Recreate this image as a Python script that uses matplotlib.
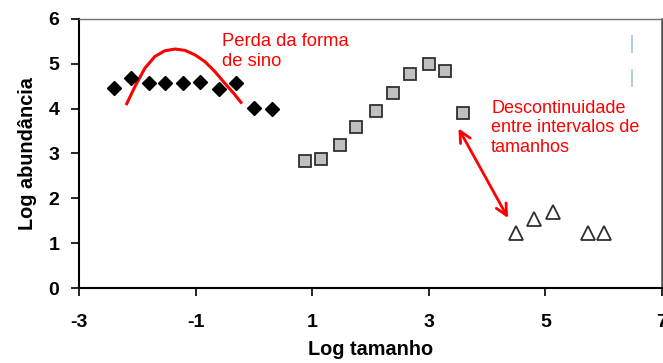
import matplotlib.pyplot as plt

plt.rcParams['font.family'] = ['Liberation Sans', 'DejaVu Sans']
plt.rcParams['axes.unicode_minus'] = False

# Classe 1 (losangos)
diamX = [-2.40, -2.11, -1.79, -1.52, -1.21, -0.92, -0.60, -0.30, 0.01, 0.32]
diamY = [4.47, 4.69, 4.57, 4.57, 4.57, 4.60, 4.43, 4.57, 4.02, 4.00]

# Classe 2 (quadrados)
sqX = [0.87, 1.16, 1.48, 1.76, 2.09, 2.39, 2.68, 3.00, 3.28, 3.58]
sqY = [2.83, 2.88, 3.19, 3.59, 3.94, 4.35, 4.78, 5.00, 4.84, 3.90]

# Classe 3 (triangulos)
triX = [4.50, 4.81, 5.13, 5.73, 6.01]
triY = [1.22, 1.53, 1.69, 1.22, 1.22]

# Curva em forma de sino
bellX = [-2.18, -2.04, -1.87, -1.70, -1.53, -1.35, -1.18, -1.01, -0.84, -0.67, -0.50, -0.35, -0.22]
bellY = [4.11, 4.49, 4.90, 5.16, 5.29, 5.33, 5.30, 5.20, 5.05, 4.83, 4.57, 4.35, 4.14]

# Extremos da seta de descontinuidade
arrowStart = (3.51, 3.56)
arrowEnd = (4.36, 1.56)

# Pequenas barras azuladas
barX = 6.48
barSegs = [(5.63, 5.26), (4.87, 4.50)]

xticks = [-3, -1, 1, 3, 5, 7]
yticks = [0, 1, 2, 3, 4, 5, 6]

fig = plt.figure(figsize=(6.63, 3.63), dpi=100)
ax = fig.add_axes([0.119, 0.2066, 0.8795, 0.7411])

ax.plot(bellX, bellY, '-', color='#ff0000', linewidth=2.2, zorder=3)
ax.plot(diamX, diamY, 'D', color='black', markersize=7, zorder=4)
ax.plot(sqX, sqY, 's', markerfacecolor='#c0c0c0', markeredgecolor='#303030',
        markeredgewidth=1.3, markersize=8.5, zorder=4)
ax.plot(triX, triY, '^', markerfacecolor='white', markeredgecolor='#303030',
        markeredgewidth=1.3, markersize=10.5, zorder=4)

for y0, y1 in barSegs:
    ax.plot([barX, barX], [y0, y1], color='#9cc8d2', linewidth=1.2)

ax.annotate('', xy=arrowEnd, xytext=arrowStart,
            arrowprops=dict(arrowstyle='<->', color='#ff0000', lw=2,
                            mutation_scale=20, shrinkA=0, shrinkB=0))

ax.text(-0.55, 5.68, 'Perda da forma\nde sino', color='#ff0000', fontsize=13.2,
        va='top', ha='left', linespacing=1.2)
ax.text(4.07, 4.20, 'Descontinuidade\nentre intervalos de\ntamanhos', color='#ff0000',
        fontsize=13, va='top', ha='left', linespacing=1.2)

# Eixos
ax.set_xlim(-3, 7)
ax.set_ylim(0, 6)
ax.set_xticks(xticks)
ax.set_yticks(yticks)
ax.tick_params(axis='both', direction='out', length=6, width=1.2, labelsize=14)
ax.tick_params(axis='x', pad=13)
ax.tick_params(axis='y', pad=8)
for lbl in ax.get_xticklabels() + ax.get_yticklabels():
    lbl.set_fontweight('bold')

ax.spines['left'].set_linewidth(1.5)
ax.spines['bottom'].set_linewidth(1.5)
ax.spines['top'].set_color('#707070')
ax.spines['top'].set_linewidth(1.0)
ax.spines['right'].set_color('#505050')
ax.spines['right'].set_linewidth(1.8)

ax.set_xlabel('Log tamanho', fontsize=14.3, fontweight='bold', labelpad=6)
ax.set_ylabel('Log abundância', fontsize=14.3, fontweight='bold', labelpad=8)

fig.savefig('out.png', dpi=100)
